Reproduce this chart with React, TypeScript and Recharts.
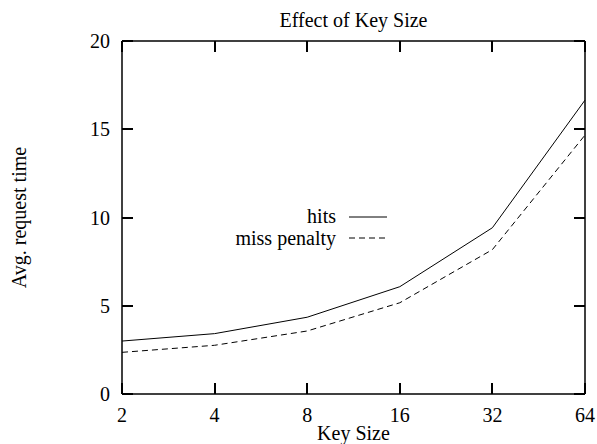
import React from 'react';
import { LineChart, Line, XAxis, YAxis, Legend, Label } from 'recharts';

const keySizes = ['2', '4', '8', '16', '32', '64'];
const hits = [3.0, 3.42, 4.35, 6.08, 9.42, 16.65];
const missPenalty = [2.36, 2.76, 3.57, 5.17, 8.18, 14.67];
const yTicks = [0, 5, 10, 15, 20];

const data = keySizes.map((s, i) => ({ size: s, hits: hits[i], miss: missPenalty[i] }));

const FONT = '"Liberation Serif", "DejaVu Serif", serif';
const FS = 20;
const TICK = 11;
const TW = 2;
const AXW = 1.5;

// plot frame layout
const PLOT_LEFT = 122;
const PLOT_TOP = 41;
const PLOT_RIGHT = 585;
const PLOT_BOTTOM = 394;

const axisLineStyle = { stroke: '#000', strokeWidth: AXW };

// bottom axis tick: inward tick at bottom, mirrored inward tick at top, plus label
const BottomTick = (props: any) => {
  const { x, payload } = props;
  const rx = Math.round(x) - TW / 2;
  return (
    <g>
      <rect x={rx} y={PLOT_BOTTOM - TICK} width={TW} height={TICK} fill="#000" />
      <rect x={rx} y={PLOT_TOP} width={TW} height={TICK} fill="#000" />
      <text x={x} y={PLOT_BOTTOM + 28} textAnchor="middle" fontSize={FS} fontFamily={FONT} fill="#000">
        {payload.value}
      </text>
    </g>
  );
};

// left axis tick: inward tick at left, mirrored inward tick at right, plus label
const LeftTick = (props: any) => {
  const { y, payload } = props;
  const ry = Math.round(y) - TW / 2;
  return (
    <g>
      <rect x={PLOT_LEFT} y={ry} width={TICK} height={TW} fill="#000" />
      <rect x={PLOT_RIGHT - TICK} y={ry} width={TICK} height={TW} fill="#000" />
      <text x={PLOT_LEFT - 12} y={y + 7} textAnchor="end" fontSize={FS} fontFamily={FONT} fill="#000">
        {payload.value}
      </text>
    </g>
  );
};

const LegendContent = (props: any) => {
  const items = (props.payload || []).filter((p: any) => p.type !== 'none' && p.value);
  return (
    <svg width={200} height={60} style={{ display: 'block' }}>
      {items.map((p: any, i: number) => (
        <g key={i}>
          <text x={116} y={18 + i * 22} textAnchor="end" fontSize={FS} fontFamily={FONT} fill="#000">
            {p.value}
          </text>
          <line
            x1={129}
            x2={167}
            y1={12 + i * 21}
            y2={12 + i * 21}
            stroke="#000"
            strokeWidth={1}
            strokeDasharray={p.payload && p.payload.strokeDasharray ? p.payload.strokeDasharray : undefined}
          />
        </g>
      ))}
    </svg>
  );
};

export default function App() {
  return (
    <div style={{ position: 'absolute', left: 0, top: 0, background: '#fff' }}>
      <LineChart
        width={597}
        height={444}
        data={data}
        margin={{ top: PLOT_TOP - 1, right: 597 - PLOT_RIGHT - 1, bottom: 0, left: 0 }}
      >
        <XAxis
          xAxisId="bottom"
          dataKey="size"
          type="category"
          orientation="bottom"
          height={444 - PLOT_BOTTOM}
          interval={0}
          tickSize={0}
          tickMargin={0}
          tickLine={false}
          axisLine={axisLineStyle}
          tick={<BottomTick />}
        >
          <Label
            content={() => (
              <text
                x={(PLOT_LEFT + PLOT_RIGHT) / 2}
                y={440}
                textAnchor="middle"
                fontSize={FS}
                fontFamily={FONT}
                fill="#000"
              >
                Key Size
              </text>
            )}
          />
        </XAxis>
        <XAxis
          xAxisId="top"
          dataKey="size"
          type="category"
          orientation="top"
          height={1}
          tick={false}
          tickLine={false}
          axisLine={axisLineStyle}
        />
        <YAxis
          yAxisId="left"
          orientation="left"
          width={PLOT_LEFT}
          type="number"
          domain={[0, 20]}
          ticks={yTicks}
          interval={0}
          tickSize={0}
          tickMargin={0}
          tickLine={false}
          axisLine={axisLineStyle}
          tick={<LeftTick />}
        >
          <Label
            content={() => {
              const cx = 26;
              const cy = (PLOT_TOP + PLOT_BOTTOM) / 2;
              return (
                <text
                  x={cx}
                  y={cy}
                  transform={`rotate(-90, ${cx}, ${cy})`}
                  textAnchor="middle"
                  fontSize={FS}
                  fontFamily={FONT}
                  fill="#000"
                >
                  Avg. request time
                </text>
              );
            }}
          />
        </YAxis>
        <YAxis
          yAxisId="right"
          orientation="right"
          width={1}
          type="number"
          domain={[0, 20]}
          tick={false}
          tickLine={false}
          axisLine={axisLineStyle}
        />
        <Legend
          layout="horizontal"
          verticalAlign="middle"
          align="center"
          wrapperStyle={{ left: 220, top: 205, width: 200, height: 60 }}
          content={(p: any) => (
            <div>
              <LegendContent payload={p.payload} />
            </div>
          )}
        />
        <Line
          xAxisId="bottom"
          yAxisId="left"
          type="linear"
          dataKey="hits"
          name="hits"
          stroke="#000"
          strokeWidth={1}
          dot={false}
          isAnimationActive={false}
        />
        <Line
          xAxisId="bottom"
          yAxisId="left"
          type="linear"
          dataKey="miss"
          name="miss penalty"
          stroke="#000"
          strokeWidth={1}
          strokeDasharray="6 4"
          dot={false}
          isAnimationActive={false}
        />
        <Line
          xAxisId="top"
          yAxisId="right"
          dataKey="hits"
          name=""
          legendType="none"
          stroke="none"
          dot={false}
          activeDot={false}
          isAnimationActive={false}
        />
      </LineChart>
      <svg width={597} height={40} style={{ position: 'absolute', left: 0, top: 0, pointerEvents: 'none' }}>
        <text x={(PLOT_LEFT + PLOT_RIGHT) / 2} y={27} textAnchor="middle" fontSize={FS} fontFamily={FONT} fill="#000">
          Effect of Key Size
        </text>
      </svg>
    </div>
  );
}
